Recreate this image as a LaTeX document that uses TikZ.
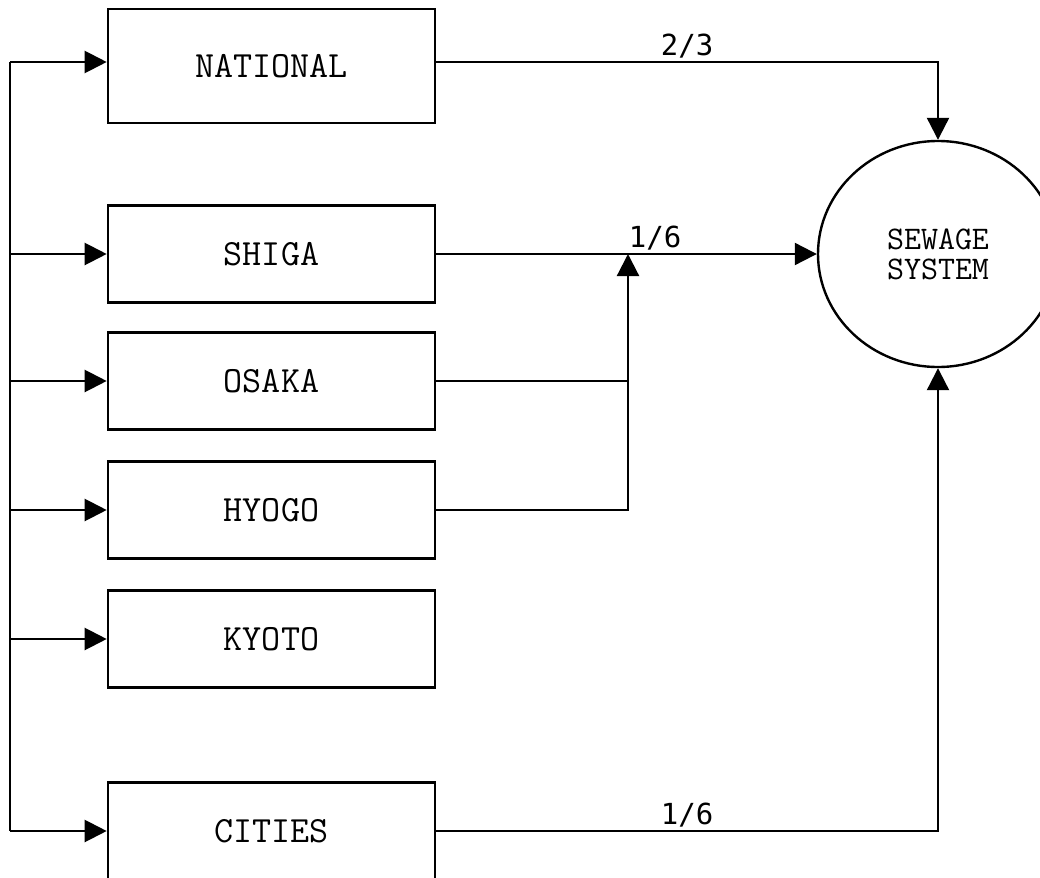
\documentclass[tikz,border=0pt]{standalone}
\usepackage{fontspec}
\usepackage{tikz}
\usetikzlibrary{shapes.geometric, arrows.meta, positioning, calc}
\newfontfamily\fracfont{DejaVu Sans Mono}
\tikzset{
	agency/.style ={rectangle, draw=black, line width=1.3pt, minimum width=163.5pt, minimum height=48.5pt, align=center, font=\fontsize{18.5}{20}\ttfamily},
	plant/.style  ={ellipse, draw=black, line width=1.2pt, minimum width=120pt, minimum height=113pt, inner sep=0pt, align=center, font=\fontsize{16.5}{15}\ttfamily},
	sig/.style    ={-{Triangle[length=11pt, width=11pt]}, line width=1.1pt},
	share/.style  ={above, inner sep=1.5pt, font=\fontsize{14.5}{16}\fracfont},
}
\begin{document}
\begin{tikzpicture}[x=0.5pt, y=-0.5pt]
	\useasboundingbox (0,0) rectangle (1040,878);
	% funding sources
	\node[agency, minimum height=57pt] (nat) at (271.5,66) {NATIONAL};
	\node[agency] (shiga)  at (271.5,254) {SHIGA};
	\node[agency] (osaka)  at (271.5,381) {OSAKA};
	\node[agency] (hyogo)  at (271.5,510) {HYOGO};
	\node[agency] (kyoto)  at (271.5,639) {KYOTO};
	\node[agency] (cities) at (271.5,831) {CITIES};
	\node[plant] (sew) at (938,254) {SEWAGE\\SYSTEM};
	\coordinate (bus) at (10,62);
	\coordinate (jn) at (628,254);
	% left bus
	\draw[line width=1.1pt] (bus) -- (bus |- cities.west);
	\draw[sig] (bus) -- (bus -| nat.west);
	\foreach \s in {shiga, osaka, hyogo, kyoto, cities}
		\draw[sig] (bus |- \s.west) -- (\s.west);
	% shares
	\draw[sig] (bus -| nat.east) -| (sew.north) node[share, pos=0.25] (fnat) {2/3};
	\draw[sig] (shiga.east) -- (sew.west) node[share, pos=0.575] (fpref) {1/6};
	\draw[line width=1.1pt] (osaka.east) -- (osaka.east -| jn);
	\draw[sig] (hyogo.east) -| (jn);
	\draw[sig] (cities.east) -| (sew.south) node[share, pos=0.25] (fcity) {1/6};
\end{tikzpicture}
\end{document}
